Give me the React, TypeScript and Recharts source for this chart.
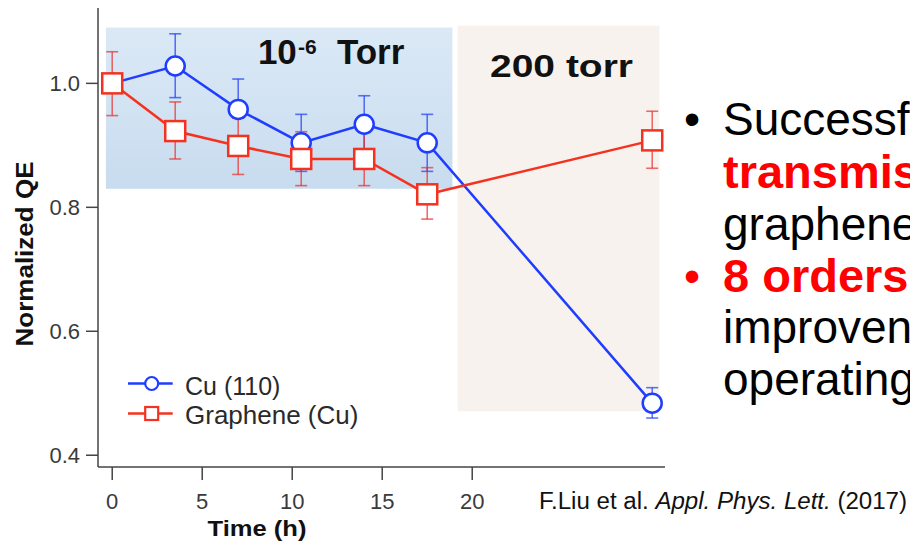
import React from 'react';
import { LineChart, Line, XAxis, YAxis, ErrorBar, ReferenceArea, Legend } from 'recharts';

// ---- data ----
const timeHours = [0, 3.5, 7, 10.5, 14, 17.5, 30];
const cuQE = [1.0, 1.028, 0.958, 0.904, 0.934, 0.904, 0.484];
const cuHigh = [1.0, 1.08, 1.007, 0.95, 0.98, 0.95, 0.509];
const cuLow = [1.0, 0.977, 0.945, 0.858, 0.888, 0.858, 0.46];
const grQE = [1.0, 0.923, 0.899, 0.878, 0.878, 0.821, 0.908];
const grHigh = [1.051, 0.97, 0.944, 0.922, 0.922, 0.864, 0.955];
const grLow = [0.948, 0.878, 0.853, 0.835, 0.835, 0.781, 0.863];
const xTicks = [0, 5, 10, 15, 20];
const yTicks = [0.4, 0.6, 0.8, 1.0];
const xDomain = [-0.79, 30.71];
const yDomain = [0.381, 1.1216];
// shaded regions (time, QE)
const vacuumRegion = { x1: -0.35, x2: 18.9, y1: 0.83, y2: 1.09 };
const torrRegion = { x1: 19.19, x2: 30.4, y1: 0.471, y2: 1.093 };
const seriesNames = ['Cu (110)', 'Graphene (Cu)'];

const FONT = '"Liberation Sans", Arial, Helvetica, sans-serif';
const BLUE = '#1f3dff';
const RED = '#f5321f';
const AXIS = '#454545';

const data = timeHours.map((t, i) => ({
  time: t,
  cu: cuQE[i],
  cuErr: [cuQE[i] - cuLow[i], cuHigh[i] - cuQE[i]],
  gr: grQE[i],
  grErr: [grQE[i] - grLow[i], grHigh[i] - grQE[i]],
}));

const SquareDot = (props: any) => {
  const { cx, cy, index } = props;
  if (cx == null || cy == null) return <g key={`sq-${index}`} />;
  return (
    <rect key={`sq-${index}`} x={cx - 10} y={cy - 10} width={20} height={20}
      fill="#fff" stroke={RED} strokeWidth={2.5} />
  );
};

const YTitle = (props: any) => {
  const vb = props.viewBox || { x: 0, y: 8 };
  const cx = vb.x + 33;
  const cy = vb.y + 246;
  return (
    <text x={cx} y={cy} transform={`rotate(-90 ${cx} ${cy})`} textAnchor="middle"
      fontFamily={FONT} fontWeight="bold" fontSize={24} textLength={185}
      lengthAdjust="spacingAndGlyphs" fill="#111">Normalized QE</text>
  );
};

const XTitle = (props: any) => {
  const vb = props.viewBox || { x: 98, y: 467 };
  const cx = vb.x + 159;
  const cy = vb.y + 69;
  return (
    <text x={cx} y={cy} textAnchor="middle" fontFamily={FONT} fontWeight="bold"
      fontSize={22} textLength={99} lengthAdjust="spacingAndGlyphs" fill="#111">Time (h)</text>
  );
};

const VacuumLabel = (props: any) => {
  const vb = props.viewBox || { x: 106, y: 27 };
  const bx = vb.x + 152;
  const by = vb.y + 36;
  return (
    <g fontFamily={FONT} fontWeight="bold" fill="#111">
      <text x={bx} y={by} fontSize={35}>10</text>
      <text x={bx + 40} y={by - 10} fontSize={21}>-6</text>
      <text x={bx + 79} y={by} fontSize={35}>Torr</text>
    </g>
  );
};

const TorrLabel = (props: any) => {
  const vb = props.viewBox || { x: 458, y: 26, width: 202 };
  const cx = vb.x + vb.width / 2 + 3;
  const cy = vb.y + 51.6;
  return (
    <text x={cx} y={cy} textAnchor="middle" fontFamily={FONT} fontWeight="bold"
      fontSize={32} textLength={143} lengthAdjust="spacingAndGlyphs" fill="#111">200 torr</text>
  );
};

const LegendContent = (props: any) => {
  const items = props.payload || [];
  return (
    <svg width={260} height={75} style={{ display: 'block' }}>
      {items.map((it: any, i: number) => {
        const isCu = it.dataKey === 'cu';
        const ly = isCu ? 23.5 : 53.5;
        const ty = isCu ? 35 : 64;
        const color = isCu ? BLUE : RED;
        return (
          <g key={`lg-${i}`}>
            <line x1={8} y1={ly} x2={52.7} y2={ly} stroke={color} strokeWidth={2.5} />
            {isCu ? (
              <circle cx={31.7} cy={ly} r={6.5} fill="#fff" stroke={color} strokeWidth={2.2} />
            ) : (
              <rect x={25.2} y={ly - 6.5} width={13} height={13} fill="#fff" stroke={color} strokeWidth={2.2} />
            )}
            <text x={65} y={ty} fontFamily={FONT} fontSize={isCu ? 25 : 26} fill="#2a2a2a">{it.value}</text>
          </g>
        );
      })}
    </svg>
  );
};

export default function App() {
  return (
    <div style={{ position: 'absolute', left: 0, top: 0, width: 910, height: 543, overflow: 'hidden', background: '#fff' }}>
      <LineChart width={910} height={543} data={data} margin={{ top: 8, right: 245, bottom: 0, left: 0 }}>
        <defs>
          <linearGradient id="vacuumFill" x1="0" y1="0" x2="0" y2="1">
            <stop offset="0%" stopColor="#dbe9f6" />
            <stop offset="100%" stopColor="#c8dcef" />
          </linearGradient>
        </defs>
        <XAxis dataKey="time" type="number" domain={xDomain} ticks={xTicks} allowDataOverflow
          height={76} tickSize={13} tickMargin={13}
          axisLine={{ stroke: AXIS, strokeWidth: 1.5 }} tickLine={{ stroke: AXIS, strokeWidth: 1.5 }}
          tick={{ fill: '#3a3a3a', fontSize: 22, fontFamily: FONT }}
          label={{ content: XTitle }} />
        <XAxis xAxisId="top" orientation="top" type="number" domain={xDomain} allowDataOverflow
          height={0} tick={false} tickLine={false} axisLine={{ stroke: AXIS, strokeWidth: 1.5 }} />
        <YAxis type="number" domain={yDomain} ticks={yTicks} allowDataOverflow width={98}
          tickSize={12} tickMargin={6} tickFormatter={(v: number) => v.toFixed(1)}
          axisLine={{ stroke: AXIS, strokeWidth: 1.5 }} tickLine={{ stroke: AXIS, strokeWidth: 1.5 }}
          tick={{ fill: '#3a3a3a', fontSize: 22, fontFamily: FONT }}
          label={{ content: YTitle }} />
        <YAxis yAxisId="right" orientation="right" type="number" domain={yDomain} allowDataOverflow
          width={0} tick={false} tickLine={false} axisLine={{ stroke: AXIS, strokeWidth: 1.5 }} />
        <ReferenceArea x1={vacuumRegion.x1} x2={vacuumRegion.x2} y1={vacuumRegion.y1} y2={vacuumRegion.y2}
          fill="url(#vacuumFill)" fillOpacity={1} stroke="none" label={VacuumLabel} />
        <ReferenceArea x1={torrRegion.x1} x2={torrRegion.x2} y1={torrRegion.y1} y2={torrRegion.y2}
          fill="#f7f2ee" fillOpacity={1} stroke="none" label={TorrLabel} />
        <Line dataKey="cu" name={seriesNames[0]} type="linear" stroke={BLUE} strokeWidth={2.5}
          isAnimationActive={false} activeDot={false}
          dot={{ r: 9.5, fill: '#fff', stroke: BLUE, strokeWidth: 2.5 }}>
          <ErrorBar dataKey="cuErr" direction="y" width={6} stroke="rgba(40,70,250,0.75)" strokeWidth={1.6} />
        </Line>
        <Line dataKey="gr" name={seriesNames[1]} type="linear" stroke={RED} strokeWidth={2.5}
          isAnimationActive={false} activeDot={false}
          dot={(p: any) => <SquareDot {...p} key={`sq-${p.index}`} />}>
          <ErrorBar dataKey="grErr" direction="y" width={6} stroke="rgba(235,45,45,0.7)" strokeWidth={1.6} />
        </Line>
        <Legend layout="vertical" align="center" verticalAlign="middle" content={LegendContent}
          wrapperStyle={{ left: 120, top: 360, width: 260, height: 75 }} />
      </LineChart>
      <svg width={910} height={543} style={{ position: 'absolute', left: 0, top: 0, pointerEvents: 'none' }}>
        <g fontFamily={FONT} fontSize={46}>
          <text x={684} y={135} fill="#000">•</text>
          <text x={723} y={135} fill="#000">Successf</text>
          <text x={723} y={188} fill="#ff0000" fontWeight="bold" fontSize={47}>transmis</text>
          <text x={723} y={240} fill="#000">graphene</text>
          <text x={684} y={292} fill="#ff0000">•</text>
          <text x={723} y={292} fill="#ff0000" fontWeight="bold" fontSize={47}>8 orders</text>
          <text x={723} y={343} fill="#000">improven</text>
          <text x={723} y={395} fill="#000">operating</text>
        </g>
        <text x={539} y={508.5} fontFamily={FONT} fontSize={23} fill="#111" textLength={368} lengthAdjust="spacingAndGlyphs">
          F.Liu et al. <tspan fontStyle="italic">Appl. Phys. Lett.</tspan> (2017)
        </text>
      </svg>
    </div>
  );
}
